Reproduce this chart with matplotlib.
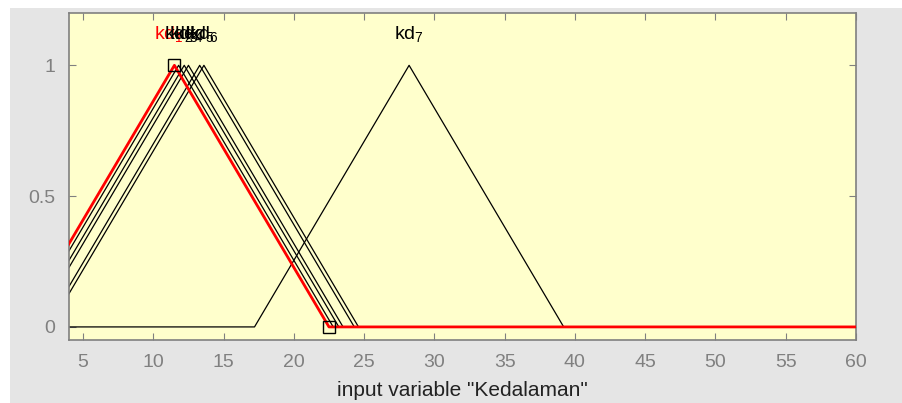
import matplotlib.pyplot as plt
import numpy as np
from matplotlib.patches import Rectangle

# triangle membership functions [a, b, c] of input "Kedalaman"
mf_names = ['kd1', 'kd2', 'kd3', 'kd4', 'kd5', 'kd6', 'kd7']
mf_a = [0.5, 0.8, 1.2, 1.5, 2.3, 2.6, 17.2]
mf_b = [11.5, 11.8, 12.2, 12.5, 13.3, 13.6, 28.2]
mf_c = [22.5, 22.8, 23.2, 23.5, 24.3, 24.6, 39.2]
selected = 0
x_range = [4, 60]
x_ticks = [5, 10, 15, 20, 25, 30, 35, 40, 45, 50, 55, 60]
y_ticks = [0, 0.5, 1]

plt.rcParams['font.family'] = ['Liberation Sans', 'DejaVu Sans']
plt.rcParams['mathtext.default'] = 'regular'

fig = plt.figure(figsize=(9.02, 4.03), dpi=100, facecolor='white')
fig.patches.append(Rectangle((10/902, 0), 1, (403-8)/403, transform=fig.transFigure,
                             facecolor='#e5e5e5', edgecolor='none', zorder=-1))
ax = fig.add_axes([69/902, (403-340)/403, (856-69)/902, (340-13)/403])
ax.set_facecolor('#ffffcc')

grey = '#808080'
for i in range(len(mf_names)):
    xs = [mf_a[i], mf_b[i], mf_c[i], x_range[1]]
    ys = [0, 1, 0, 0]
    if mf_a[i] > x_range[0]:
        xs = [x_range[0]] + xs
        ys = [0] + ys
    if i == selected:
        continue
    ax.plot(xs, ys, color='black', lw=0.9, zorder=2)
    ax.text(mf_b[i], 1.08, mf_names[i][:2] + '$_{' + mf_names[i][2:] + '}$',
            ha='center', va='bottom', fontsize=14, color='black')

# selected mf on top in red
i = selected
ax.plot([mf_a[i], mf_b[i], mf_c[i], x_range[1]], [0, 1, 0, 0], color='red', lw=2, zorder=3)
ax.plot([mf_b[i], mf_c[i]], [1, 0], ls='none', marker='s', ms=8, mfc='none',
        mec='black', mew=1, zorder=4)
ax.text(mf_b[i] - 0.4, 1.08, mf_names[i][:2] + '$_{' + mf_names[i][2:] + '}$',
        ha='center', va='bottom', fontsize=14, color='red', zorder=1)

ax.set_xlim(x_range)
ax.set_ylim(-0.05, 1.2)
ax.set_xticks(x_ticks)
ax.set_yticks(y_ticks)
ax.set_yticklabels(['0', '0.5', '1'])
ax.tick_params(direction='in', top=True, right=True, length=5, color=grey,
               labelcolor=grey, labelsize=14, pad=10)
for s in ax.spines.values():
    s.set_color(grey)
    s.set_linewidth(1.2)
ax.set_xlabel('input variable "Kedalaman"', fontsize=15, color='#222222', labelpad=7)

plt.savefig('out.png', dpi=100, facecolor=fig.get_facecolor())
